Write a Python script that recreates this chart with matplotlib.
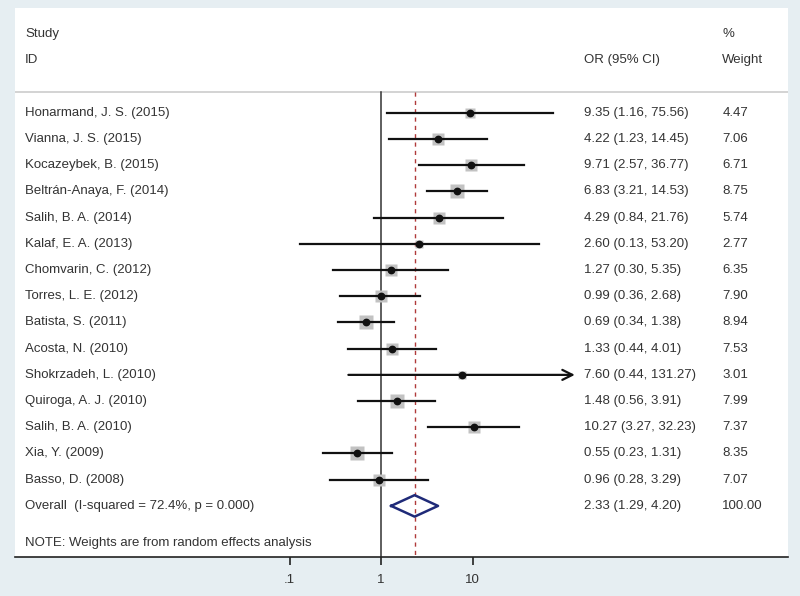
import matplotlib.pyplot as plt
import matplotlib.transforms as mtransforms
import numpy as np

plt.rcParams['font.family'] = ['Liberation Sans', 'DejaVu Sans']

studies = ['Honarmand, J. S. (2015)', 'Vianna, J. S. (2015)', 'Kocazeybek, B. (2015)',
           'Beltrán-Anaya, F. (2014)', 'Salih, B. A. (2014)', 'Kalaf, E. A. (2013)',
           'Chomvarin, C. (2012)', 'Torres, L. E. (2012)', 'Batista, S. (2011)',
           'Acosta, N. (2010)', 'Shokrzadeh, L. (2010)', 'Quiroga, A. J. (2010)',
           'Salih, B. A. (2010)', 'Xia, Y. (2009)', 'Basso, D. (2008)']
odds = [9.35, 4.22, 9.71, 6.83, 4.29, 2.60, 1.27, 0.99, 0.69, 1.33, 7.60, 1.48, 10.27, 0.55, 0.96]
lower = [1.16, 1.23, 2.57, 3.21, 0.84, 0.13, 0.30, 0.36, 0.34, 0.44, 0.44, 0.56, 3.27, 0.23, 0.28]
upper = [75.56, 14.45, 36.77, 14.53, 21.76, 53.20, 5.35, 2.68, 1.38, 4.01, 131.27, 3.91, 32.23, 1.31, 3.29]
weights = [4.47, 7.06, 6.71, 8.75, 5.74, 2.77, 6.35, 7.90, 8.94, 7.53, 3.01, 7.99, 7.37, 8.35, 7.07]

overall_label = 'Overall  (I-squared = 72.4%, p = 0.000)'
overall_or, overall_lo, overall_hi, overall_w = 2.33, 1.29, 4.20, 100.00
note = 'NOTE: Weights are from random effects analysis'
xticks = [0.1, 1, 10]
xticklabels = ['.1', '1', '10']

txt = '#333333'
fs = 9.5

fig = plt.figure(figsize=(8, 5.96), dpi=100, facecolor='#e6eef2')
ax = fig.add_axes([15 / 800, 1 - 557 / 596, 773 / 800, 549 / 596])
ax.set_facecolor('white')
ax.set_xscale('log')
ax.set_xlim(1e-4, 10 ** 4.448)
ax.set_ylim(17.95, -3.0)

for s in ['top', 'left', 'right']:
    ax.spines[s].set_visible(False)
ax.spines['bottom'].set_linewidth(1.2)
ax.spines['bottom'].set_color('#222222')
ax.set_yticks([])
ax.set_xticks(xticks)
ax.set_xticklabels(xticklabels, fontsize=fs, color=txt)
ax.minorticks_off()
ax.tick_params(axis='x', direction='out', length=6, width=1.2, pad=6, color='#222222')

rows = np.arange(1, len(studies) + 1)
y_over = len(studies) + 1
y_note = 17.4

# separator + reference lines
ax.axhline(0.2, color='#cccccc', lw=1.2)
ax.plot([1, 1], [0.2, 17.95], color='#333333', lw=1.1)
ax.plot([overall_or, overall_or], [0.2, 17.95], color='#b03a3a', lw=1.0, ls=(0, (3, 3)))

trans = mtransforms.blended_transform_factory(ax.transAxes, ax.transData)

for y, name, o, lo, hi, w in zip(rows, studies, odds, lower, upper, weights):
    side = 4.6 * np.sqrt(w) * 0.72
    ax.plot(o, y, marker='s', ms=side, color='#c2c2c2', mec='none', zorder=2)
    if hi > 100:
        ax.annotate('', xy=(hi, y), xytext=(lo, y),
                    arrowprops=dict(arrowstyle='->', lw=1.6, color='#111111',
                                    mutation_scale=18, shrinkA=0, shrinkB=0), zorder=3)
    else:
        ax.plot([lo, hi], [y, y], color='#111111', lw=1.6, zorder=3)
    ax.plot(o, y, marker='o', ms=4.6, color='#111111', zorder=4)
    ax.text(0.013, y, name, transform=trans, va='center', fontsize=fs, color=txt)
    ax.text(0.736, y, f'{o:.2f} ({lo:.2f}, {hi:.2f})', transform=trans,
            va='center', fontsize=fs, color=txt)
    ax.text(0.915, y, f'{w:.2f}', transform=trans, va='center', fontsize=fs, color=txt)

# overall diamond
dx = [overall_lo, overall_or, overall_hi, overall_or, overall_lo]
dy = [y_over, y_over - 0.41, y_over, y_over + 0.41, y_over]
ax.plot(dx, dy, color='#1f2a78', lw=1.8, zorder=4)
ax.text(0.013, y_over, overall_label, transform=trans, va='center', fontsize=fs, color=txt)
ax.text(0.736, y_over, f'{overall_or:.2f} ({overall_lo:.2f}, {overall_hi:.2f})',
        transform=trans, va='center', fontsize=fs, color=txt)
ax.text(0.915, y_over, f'{overall_w:.2f}', transform=trans, va='center', fontsize=fs, color=txt)

ax.text(0.013, y_note, note, transform=trans, va='center', fontsize=fs, color=txt)

# headers
ax.text(0.013, -2, 'Study', transform=trans, va='center', fontsize=fs, color=txt)
ax.text(0.013, -1, 'ID', transform=trans, va='center', fontsize=fs, color=txt)
ax.text(0.736, -1, 'OR (95% CI)', transform=trans, va='center', fontsize=fs, color=txt)
ax.text(0.915, -2, '%', transform=trans, va='center', fontsize=fs, color=txt)
ax.text(0.915, -1, 'Weight', transform=trans, va='center', fontsize=fs, color=txt)

fig.savefig('out.png', dpi=100, facecolor=fig.get_facecolor())
